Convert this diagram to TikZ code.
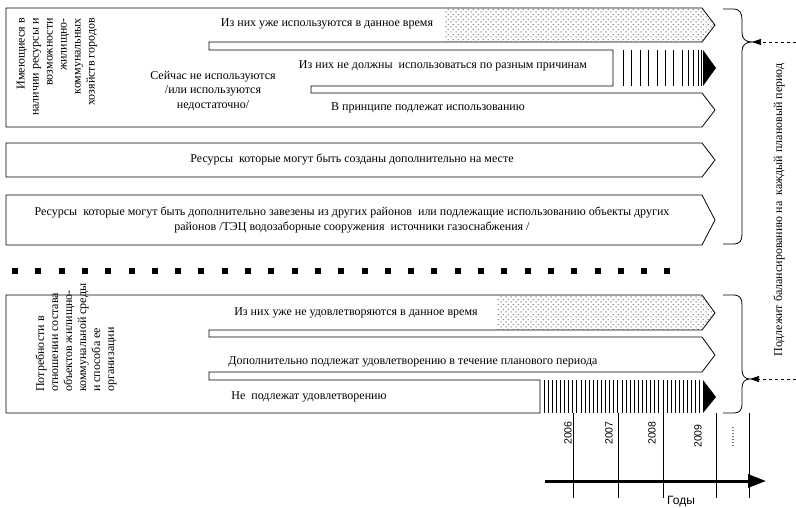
\documentclass[tikz,border=0pt]{standalone}
\usepackage{fontspec}
\setmainfont{Liberation Serif}
\newfontfamily\arialf{Liberation Sans}
\usetikzlibrary{arrows.meta,patterns,patterns.meta}
\tikzdeclarepattern{
  name=sdots,
  type=uncolored,
  bounding box={(0pt,0pt) and (5pt,5pt)},
  tile size={(5pt,5pt)},
  code={\fill (1.25pt,1.25pt) circle (0.65pt); \fill (3.75pt,3.75pt) circle (0.65pt);}
}
\begin{document}
\begin{tikzpicture}[x=1pt,y=-1pt,
  lbl/.style={font=\fontsize{12}{14.5}\selectfont, inner sep=0pt, align=center},
  vlbl/.style={font=\fontsize{12}{14}\selectfont, inner sep=0pt, rotate=90},
  yr/.style={font=\arialf\fontsize{10.5}{12}\selectfont, inner sep=0pt, rotate=90},
  outl/.style={line width=0.8pt, draw=black, line join=miter},
  stripe/.style={line width=0.7pt},
  dotfill/.style={pattern=sdots, pattern color=black},
  dasharrow/.style={dashed, line width=0.7pt, -{Triangle[length=9pt,width=6pt]}},
  yline/.style={line width=0.6pt}]
\path[use as bounding box] (0,0) rectangle (796,508);

% ---------- upper block ----------
\fill[dotfill] (445,8) -- (702,8) -- (715,25) -- (702,42) -- (445,42) -- cycle;
\foreach \x in {623,631,640,648,657,665,673,682,688,693,698,701}
  \draw[stripe] (\x,50) -- (\x,86);
\fill (703,50) -- (716,68) -- (703,86) -- cycle;
\draw[outl] (6,8) -- (702,8) -- (715,25) -- (702,42) -- (209,42) -- (209,50)
  -- (613,50) -- (613,86) -- (311,86) -- (311,93) -- (702,93) -- (715,110)
  -- (702,127) -- (6,127) -- cycle;

\node[vlbl, align=right, anchor=east] (res) at (57,18)
  {Имеющиеся в\\наличии ресурсы и\\возможности\\жилищно-\\коммунальных\\хозяйств городов};
\node[lbl] (use) at (327,24) {Из них уже используются в данное время};
\node[lbl] (notnow) at (213,91) {Сейчас не используются\\/или используются\\недостаточно/};
\node[lbl] (must) at (443,66) {Из них не должны\ \ использоваться по разным причинам};
\node[lbl] (princ) at (428,108) {В принципе подлежат использованию};

% ---------- rows 4 and 5 ----------
\draw[outl] (6,143) -- (702,143) -- (715,160) -- (702,177) -- (6,177) -- cycle;
\node[lbl] (local) at (352,160) {Ресурсы\ \ которые могут быть созданы дополнительно на месте};
\draw[outl] (6,195) -- (702,195) -- (715,220) -- (702,245) -- (6,245) -- cycle;
\node[lbl] (import) at (352,220) {Ресурсы\ \ которые могут быть дополнительно завезены из других районов\ \ или подлежащие использованию объекты других\\районов /ТЭЦ водозаборные сооружения\ \ источники газоснабжения /};

% ---------- separator ----------
\foreach \i in {0,...,28}
  \fill ({12+\i*23.3},268) rectangle ++(6,6);

% ---------- lower block ----------
\fill[dotfill] (497,295) -- (702,295) -- (715,313) -- (702,330) -- (497,330) -- cycle;
\foreach \i in {0,...,38}
  \draw[stripe] ({544+\i*4.1},380) -- ({544+\i*4.1},413);
\fill (703,380) -- (716,397) -- (703,413) -- cycle;
\draw[outl] (6,295) -- (702,295) -- (715,313) -- (702,330) -- (209,330) -- (209,337)
  -- (702,337) -- (715,355) -- (702,372) -- (209,372) -- (209,380) -- (540,380)
  -- (540,413) -- (6,413) -- cycle;

\node[vlbl, align=left, anchor=west] (need) at (76,392)
  {Потребности в\\отношении состава\\объектов жилищно-\\коммунальной среды\\и способа ее\\организации};
\node[lbl] (notsat) at (356,313) {Из них уже не удовлетворяются в данное время};
\node[lbl] (addsat) at (413,362) {Дополнительно подлежат удовлетворению в течение планового периода};
\node[lbl] (nosat) at (309,397) {Не\ \ подлежат удовлетворению};

% ---------- braces and balancing ----------
\draw[outl] (723,9) -- (733,9) .. controls (740,9) and (742,13) .. (742,20) -- (742,33)
  .. controls (742,39) and (746,42) .. (752,42) .. controls (746,42) and (742,45) .. (742,51)
  -- (742,234) .. controls (742,241) and (740,244) .. (733,244) -- (723,244);
\draw[outl] (723,295) -- (733,295) .. controls (740,295) and (742,298) .. (742,305) -- (742,370)
  .. controls (742,376) and (745,379) .. (750,379) .. controls (745,379) and (742,382) .. (742,388)
  -- (742,404) .. controls (742,410) and (740,413) .. (733,413) -- (723,413);
\coordinate (c1) at (752,42);
\coordinate (c2) at (750,379);
\coordinate (e1) at (796,42);
\coordinate (e2) at (796,379);
\draw[dasharrow] (e1) -- (c1);
\draw[dasharrow] (e2) -- (c2);
\node[vlbl] (bal) at (779,210) {Подлежит балансированию на\ \ каждый плановый период};

% ---------- time axis ----------
\foreach \x in {573,618,663,716,749}
  \draw[yline] (\x,413) -- (\x,498);
\node[yr] (y6) at (568,433) {2006};
\node[yr] (y7) at (609,433) {2007};
\node[yr] (y8) at (652,433) {2008};
\node[yr] (y9) at (698,436) {2009};
\node[yr] (ydots) at (733,437) {.......};
\coordinate (t0) at (545,481);
\coordinate (t1) at (766,481);
\draw[line width=3pt, -{Triangle[length=18pt,width=13pt]}] (t0) -- (t1);
\node[font=\arialf\fontsize{12}{14}\selectfont, inner sep=0pt] (god) at (681,502) {Годы};
\end{tikzpicture}
\end{document}
